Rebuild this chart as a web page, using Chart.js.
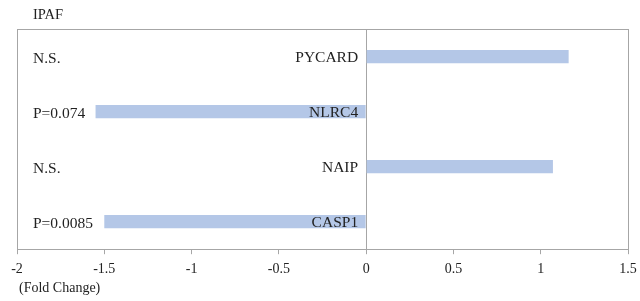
<!DOCTYPE html>
<html>
<head>
<meta charset="utf-8">
<script src="https://cdn.jsdelivr.net/npm/chart.js@4"></script>
<style>
  html, body { margin: 0; padding: 0; background: #fff; }
  #wrap { width: 640px; height: 301px; }
</style>
</head>
<body>
<div id="wrap"><canvas id="chart"></canvas></div>
<script>
const genes = ["PYCARD", "NLRC4", "NAIP", "CASP1"];
const foldChange = [1.16, -1.55, 1.07, -1.50];
const pLabels = ["N.S.", "P=0.074", "N.S.", "P=0.0085"];
const xTicks = [-2, -1.5, -1, -0.5, 0, 0.5, 1, 1.5];
const chartTitle = "IPAF";
const axisTitle = "(Fold Change)";

const serif = "'Liberation Serif', 'Times New Roman', serif";
const ink = "#222";
const rule = "#a6a6a6";

// box around the plot, gene names, p-value notes and the two loose captions
const annotate = {
  id: "annotate",
  afterDraw(chart) {
    const { ctx, chartArea: a, scales } = chart;
    ctx.save();
    ctx.strokeStyle = rule;
    ctx.lineWidth = 1;
    ctx.strokeRect(Math.round(a.left) + 0.5, Math.round(a.top) + 0.5,
      Math.round(a.right - a.left), Math.round(a.bottom - a.top));

    ctx.fillStyle = ink;
    ctx.textBaseline = "middle";
    ctx.font = "15.5px " + serif;
    const x0 = scales.x.getPixelForValue(0);
    genes.forEach((g, i) => {
      const y = scales.y.getPixelForValue(i);
      ctx.textAlign = "right";
      ctx.fillText(g, x0 - 8, y + 1);
      ctx.textAlign = "left";
      ctx.fillText(pLabels[i], a.left + 16, y + 2);
    });

    ctx.font = "14.5px " + serif;
    ctx.textAlign = "left";
    ctx.fillText(chartTitle, a.left + 16, 15);
    ctx.font = "14px " + serif;
    ctx.fillText(axisTitle, a.left + 2, 288);
    ctx.restore();
  }
};

new Chart(document.getElementById("chart"), {
  type: "bar",
  data: {
    labels: genes,
    datasets: [{
      data: foldChange,
      backgroundColor: "#b4c7e7",
      borderWidth: 0,
      barPercentage: 0.24,
      categoryPercentage: 1
    }]
  },
  options: {
    indexAxis: "y",
    responsive: true,
    maintainAspectRatio: false,
    animation: false,
    layout: { padding: { top: 29, right: 12, bottom: 16, left: 17 } },
    plugins: {
      legend: { display: false },
      tooltip: { enabled: false },
      title: { display: false }
    },
    scales: {
      x: {
        type: "linear",
        min: -2,
        max: 1.5,
        afterBuildTicks: (axis) => { axis.ticks = xTicks.map(v => ({ value: v })); },
        afterFit: (axis) => { axis.paddingRight = 0; axis.paddingLeft = 0; },
        grid: {
          color: (c) => (c.tick && c.tick.value === 0 ? rule : "rgba(0,0,0,0)"),
          tickColor: rule,
          tickLength: 5,
          drawOnChartArea: true
        },
        border: { display: true, color: rule },
        ticks: {
          color: ink,
          maxRotation: 0,
          autoSkip: false,
          padding: 7,
          font: { family: serif, size: 14 },
          callback: (v) => String(v)
        }
      },
      y: {
        display: false,
        grid: { display: false }
      }
    }
  },
  plugins: [annotate]
});
</script>
</body>
</html>
